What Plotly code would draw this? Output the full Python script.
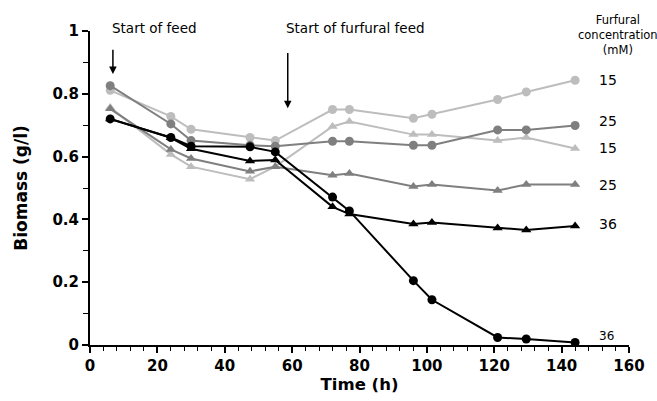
import plotly.graph_objects as go

time_h = [6, 24, 30, 47.5, 55, 72, 77, 96, 101.5, 121, 129.5, 144]

circle_15 = [0.811, 0.728, 0.687, 0.661, 0.651, 0.750, 0.750, 0.722, 0.735, 0.782, 0.806, 0.843]
circle_25 = [0.826, 0.704, 0.651, 0.636, 0.633, 0.649, 0.649, 0.636, 0.636, 0.685, 0.685, 0.699]
circle_36 = [0.720, 0.661, 0.633, 0.631, 0.615, 0.471, 0.427, 0.205, 0.144, 0.024, 0.019, 0.008]
tri_15 = [0.756, 0.607, 0.568, 0.528, 0.568, 0.696, 0.712, 0.670, 0.670, 0.651, 0.661, 0.626]
tri_25 = [0.752, 0.623, 0.594, 0.553, 0.568, 0.541, 0.546, 0.505, 0.511, 0.492, 0.511, 0.511]
tri_36 = [0.720, 0.660, 0.625, 0.586, 0.589, 0.440, 0.417, 0.385, 0.390, 0.373, 0.366, 0.379]

label_texts = ["15", "25", "15", "25", "36"]
label_values = [0.845, 0.712, 0.626, 0.511, 0.385]

x_ticks = [0, 20, 40, 60, 80, 100, 120, 140, 160]
y_ticks = [0, 0.2, 0.4, 0.6, 0.8, 1]
y_tick_text = ["0", "0.2", "0.4", "0.6", "0.8", "1"]

LIGHT = "#bdbdbd"
MID = "#7f7f7f"
DARK = "#000000"

series = [
    (tri_15, "triangle-up", LIGHT),
    (circle_15, "circle", LIGHT),
    (tri_25, "triangle-up", MID),
    (circle_25, "circle", MID),
    (tri_36, "triangle-up", DARK),
    (circle_36, "circle", DARK),
]

fig = go.Figure()
for vals, sym, col in series:
    fig.add_trace(go.Scatter(
        x=time_h, y=vals, mode="lines+markers",
        line=dict(color=col, width=2),
        marker=dict(symbol=sym, size=9, color=col),
        showlegend=False, cliponaxis=False,
    ))

FONT = "DejaVu Sans"
annotations = []
for t, v in zip(label_texts, label_values):
    annotations.append(dict(x=150.5, y=v, xref="x", yref="y", text=t, showarrow=False,
                            xanchor="left", yanchor="middle",
                            font=dict(family=FONT, size=14, color="black")))
annotations.append(dict(x=150.5, y=0.03, xref="x", yref="y", text="36", showarrow=False,
                        xanchor="left", yanchor="middle",
                        font=dict(family=FONT, size=12, color="black")))
annotations.append(dict(x=(619 - 90) / 540, y=(350 - 35) / 319, xref="paper", yref="paper",
                        text="Furfural<br>concentration<br>(mM)", showarrow=False,
                        xanchor="center", yanchor="middle", align="center",
                        font=dict(family=FONT, size=11.5, color="black")))
annotations.append(dict(x=(110 - 90) / 540, y=(350 - 28) / 319, xref="paper", yref="paper",
                        text="Start of feed", showarrow=False,
                        xanchor="left", yanchor="middle",
                        font=dict(family=FONT, size=13.5, color="black")))
annotations.append(dict(x=(284 - 90) / 540, y=(350 - 28) / 319, xref="paper", yref="paper",
                        text="Start of furfural feed", showarrow=False,
                        xanchor="left", yanchor="middle",
                        font=dict(family=FONT, size=13.5, color="black")))
# arrows
annotations.append(dict(x=6.8, y=0.863, ax=6.8, ay=0.945, xref="x", yref="y", axref="x", ayref="y",
                        text="", showarrow=True, arrowhead=2, arrowsize=1, arrowwidth=1.5,
                        arrowcolor="black"))
annotations.append(dict(x=58.7, y=0.754, ax=58.7, ay=0.935, xref="x", yref="y", axref="x", ayref="y",
                        text="", showarrow=True, arrowhead=2, arrowsize=1, arrowwidth=1.5,
                        arrowcolor="black"))

fig.update_layout(
    width=657, height=401,
    margin=dict(l=90, r=27, t=31, b=51),
    plot_bgcolor="white", paper_bgcolor="white",
    font=dict(family=FONT, color="black"),
    annotations=annotations,
    xaxis=dict(
        range=[0, 160], tickmode="array", tickvals=x_ticks,
        ticktext=["<b>%d</b>" % v for v in x_ticks],
        ticks="outside", ticklen=6, tickwidth=1.5, tickcolor="black",
        minor=dict(dtick=4, ticks="outside", ticklen=4, tickwidth=1.2, tickcolor="black"),
        showline=True, linecolor="black", linewidth=2, showgrid=False, zeroline=False,
        tickfont=dict(family=FONT, size=15, color="black"),
        title=dict(text="<b>Time (h)</b>", font=dict(family=FONT, size=16.5, color="black"), standoff=2),
    ),
    yaxis=dict(
        range=[0, 1], tickmode="array", tickvals=y_ticks,
        ticktext=["<b>%s</b>" % s for s in y_tick_text],
        ticks="outside", ticklen=6, tickwidth=1.5, tickcolor="black",
        minor=dict(dtick=0.1, ticks="outside", ticklen=5, tickwidth=1.2, tickcolor="black"),
        showline=True, linecolor="black", linewidth=2, showgrid=False, zeroline=False,
        tickfont=dict(family=FONT, size=15, color="black"),
        title=dict(text="<b>Biomass (g/l)</b>", font=dict(family=FONT, size=17, color="black"), standoff=20),
    ),
)

fig.write_html("out.html")
